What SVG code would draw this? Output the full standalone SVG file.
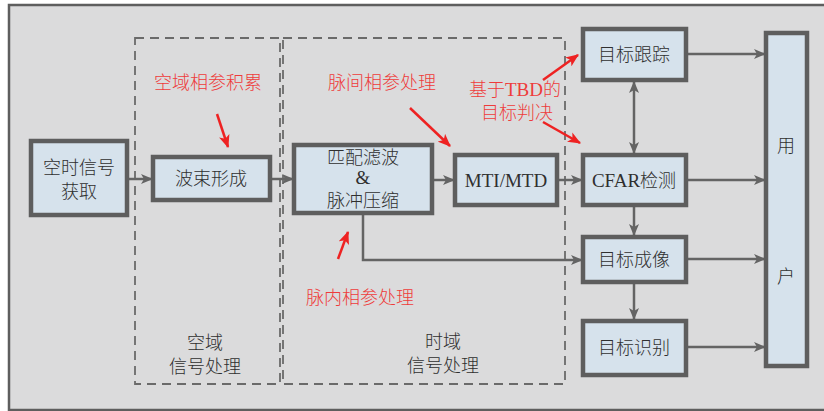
<svg xmlns="http://www.w3.org/2000/svg" width="824" height="411" viewBox="0 0 824 411">
<style>
.bg{fill:#dbdbdc;stroke:#5e5e5e;stroke-width:2.5}
.box{fill:#d6e2ec;stroke:#5e5e5e;stroke-width:4.5}
.dash{fill:none;stroke:#6a6a6a;stroke-width:1.8;stroke-dasharray:9,6}
.t{font-family:"Noto Sans CJK SC","Liberation Serif",serif;font-size:18px;fill:#2f2f2f;text-anchor:middle;font-weight:300}
.lt{font-family:"Liberation Serif","Noto Sans CJK SC",serif;font-size:19px;fill:#2f2f2f;text-anchor:middle}
.r{font-family:"Noto Sans CJK SC","Liberation Serif",serif;font-size:18px;fill:#ee3b3b;text-anchor:middle;font-weight:300}
.c{fill:none;stroke:#646464;stroke-width:2.5}
.ra{fill:none;stroke:#ee2222;stroke-width:2.5}
</style>
<defs>
<marker id="ah" viewBox="0 0 12 10" refX="11" refY="5" markerWidth="12" markerHeight="10" markerUnits="userSpaceOnUse" orient="auto-start-reverse">
<path d="M0,0 L12,5 L0,10 L3,5 Z" fill="#646464"/>
</marker>
<marker id="rh" viewBox="0 0 12 10" refX="11" refY="5" markerWidth="13" markerHeight="11" markerUnits="userSpaceOnUse" orient="auto">
<path d="M0,0 L12,5 L0,10 L3,5 Z" fill="#ee2222"/>
</marker>
</defs>
<rect class="bg" x="9" y="5" width="830" height="405"/>
<g id="region-space">
<rect class="dash" x="135" y="38" width="145" height="346"/>
<text class="t" x="205" y="349">空域</text>
<text class="t" x="205" y="373">信号处理</text>
</g>
<g id="region-time">
<rect class="dash" x="283" y="38" width="282" height="346"/>
<text class="t" x="443" y="348">时域</text>
<text class="t" x="443" y="372">信号处理</text>
</g>
<g id="connectors">
<line class="c" x1="127" y1="179" x2="152" y2="179" marker-end="url(#ah)"/>
<line class="c" x1="270" y1="179" x2="293" y2="179" marker-end="url(#ah)"/>
<line class="c" x1="432" y1="180" x2="454" y2="180" marker-end="url(#ah)"/>
<line class="c" x1="557" y1="180" x2="582" y2="180" marker-end="url(#ah)"/>
<polyline class="c" points="363,213 363,260 582,260" marker-end="url(#ah)"/>
<line class="c" x1="634" y1="82" x2="634" y2="153" marker-start="url(#ah)" marker-end="url(#ah)"/>
<line class="c" x1="634" y1="205" x2="634" y2="235" marker-end="url(#ah)"/>
<line class="c" x1="634" y1="282" x2="634" y2="319" marker-end="url(#ah)"/>
<line class="c" x1="686" y1="54" x2="765" y2="54" marker-end="url(#ah)"/>
<line class="c" x1="686" y1="180" x2="765" y2="180" marker-end="url(#ah)"/>
<line class="c" x1="686" y1="259" x2="765" y2="259" marker-end="url(#ah)"/>
<line class="c" x1="686" y1="347" x2="765" y2="347" marker-end="url(#ah)"/>
</g>
<g id="annotations">
<text class="r" x="208" y="89">空域相参积累</text>
<line class="ra" x1="217" y1="114" x2="228" y2="147" marker-end="url(#rh)"/>
<text class="r" x="382" y="89">脉间相参处理</text>
<line class="ra" x1="410" y1="108" x2="450" y2="146" marker-end="url(#rh)"/>
<text class="r" x="515" y="96">基于<tspan font-family="Liberation Serif, serif" font-weight="400" font-size="19">TBD</tspan>的</text>
<text class="r" x="517" y="119">目标判决</text>
<line class="ra" x1="543" y1="80" x2="578" y2="55" marker-end="url(#rh)"/>
<line class="ra" x1="543" y1="122" x2="580" y2="143" marker-end="url(#rh)"/>
<text class="r" x="360" y="304">脉内相参处理</text>
<line class="ra" x1="338" y1="259" x2="348" y2="232" marker-end="url(#rh)"/>
</g>
<g id="n-acquire">
<rect class="box" x="31" y="141" width="96" height="74"/>
<text class="t" x="79" y="174">空时信号</text>
<text class="t" x="79" y="198">获取</text>
</g>
<g id="n-beam">
<rect class="box" x="153" y="157" width="117" height="43"/>
<text class="t" x="211" y="185">波束形成</text>
</g>
<g id="n-match">
<rect class="box" x="294" y="145" width="138" height="68"/>
<text class="t" x="363" y="164" font-size="16.5">匹配滤波</text>
<text class="lt" x="363" y="184" font-size="15">&amp;</text>
<text class="t" x="363" y="207" font-size="16.5">脉冲压缩</text>
</g>
<g id="n-mti">
<rect class="box" x="455" y="155" width="102" height="50"/>
<text class="lt" x="506" y="187">MTI/MTD</text>
</g>
<g id="n-track">
<rect class="box" x="583" y="29" width="103" height="51"/>
<text class="t" x="634" y="61">目标跟踪</text>
</g>
<g id="n-cfar">
<rect class="box" x="583" y="155" width="103" height="50"/>
<text class="lt" x="634" y="187"><tspan>CFAR</tspan><tspan font-family="Noto Sans CJK SC, sans-serif" font-size="18" font-weight="300">检测</tspan></text>
</g>
<g id="n-image">
<rect class="box" x="583" y="237" width="103" height="45"/>
<text class="t" x="634" y="266">目标成像</text>
</g>
<g id="n-recog">
<rect class="box" x="583" y="321" width="103" height="54"/>
<text class="t" x="634" y="354">目标识别</text>
</g>
<g id="n-user">
<rect class="box" x="766" y="33" width="41" height="333"/>
<text class="t" x="786" y="152">用</text>
<text class="t" x="786" y="283">户</text>
</g>
</svg>
